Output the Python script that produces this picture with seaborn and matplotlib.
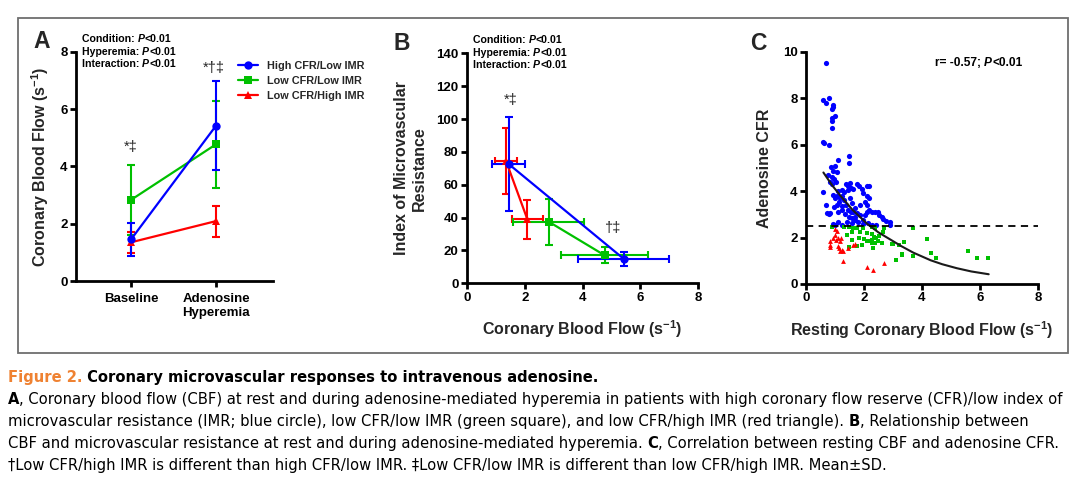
import numpy as np
import pandas as pd
import matplotlib
matplotlib.use("Agg")
import matplotlib.pyplot as plt
import seaborn as sns
from matplotlib import font_manager
from matplotlib.patches import Rectangle

# ---------------- data ----------------
groups = ["High CFR/Low IMR", "Low CFR/Low IMR", "Low CFR/High IMR"]
conditions = ["Baseline", "Adenosine\nHyperemia"]

# coronary blood flow (s^-1): [baseline, hyperemia]
cbf_high_mean = [1.45, 5.42]
cbf_high_sd = [0.57, 1.56]
cbf_lowlow_mean = [2.83, 4.77]
cbf_lowlow_sd = [1.22, 1.51]
cbf_lowhigh_mean = [1.35, 2.09]
cbf_lowhigh_sd = [0.37, 0.54]

# index of microvascular resistance: [baseline, hyperemia]
imr_high_mean = [72.5, 15.0]
imr_high_sd = [28.5, 4.3]
imr_lowlow_mean = [37.5, 17.0]
imr_lowlow_sd = [14.0, 4.8]
imr_lowhigh_mean = [74.5, 39.0]
imr_lowhigh_sd = [20.0, 12.0]

# panel C: resting CBF vs adenosine CFR
high_x = [0.70, 0.60, 0.70, 0.80, 0.94, 0.90, 0.92, 0.99, 0.91, 0.89, 0.89, 0.57, 0.63, 0.78,
          1.49, 1.49, 1.09, 1.00, 0.85, 0.92, 1.08, 0.77, 0.88, 0.98, 0.83, 1.05, 0.90, 0.57,
          0.70, 0.72, 0.82, 0.78, 0.94, 1.00, 1.08, 1.17, 1.23, 1.32, 1.06, 1.23, 1.38, 1.44,
          1.55, 1.63, 1.75, 1.86, 1.38, 1.44, 1.55, 1.46, 1.63, 1.75, 1.84, 1.92, 2.09, 2.18,
          1.97, 2.09, 2.18, 2.03, 2.12, 2.18, 2.09, 2.26, 2.38, 2.49, 2.53, 2.61, 2.66, 2.76,
          2.89, 2.89, 1.86, 1.69, 1.57, 1.69, 1.80, 1.57, 1.40, 1.23, 1.11, 1.00, 0.92, 1.97,
          2.15, 2.26, 2.43, 1.23, 1.30, 1.15, 1.50, 1.60, 1.35, 1.48, 1.70, 1.95, 2.05, 0.98,
          1.10, 1.25, 1.50, 1.12]
high_y = [9.50, 7.90, 7.80, 8.00, 7.70, 7.55, 7.63, 7.25, 7.13, 7.03, 6.73, 6.10, 6.05, 6.00,
          5.50, 5.22, 5.33, 5.10, 5.05, 4.85, 4.80, 4.70, 4.60, 4.50, 4.40, 4.40, 4.30, 3.95,
          3.40, 3.05, 3.05, 3.00, 3.85, 3.70, 3.77, 3.70, 3.77, 3.62, 3.40, 3.34, 3.40, 3.20,
          3.12, 3.10, 3.05, 2.98, 4.30, 4.20, 4.13, 4.05, 4.10, 4.30, 4.20, 4.10, 4.22, 4.22,
          3.90, 3.77, 3.70, 3.55, 3.40, 3.20, 3.12, 3.12, 3.10, 3.10, 2.98, 2.87, 2.80, 2.72,
          2.68, 2.55, 3.40, 3.27, 2.84, 2.77, 2.69, 2.62, 2.69, 2.55, 2.66, 2.55, 2.60, 2.58,
          2.62, 2.55, 2.55, 4.05, 3.95, 3.55, 3.70, 3.50, 3.00, 2.90, 2.90, 2.75, 2.95, 3.30,
          3.10, 3.20, 4.35, 4.00]
lowlow_x = [0.88, 1.30, 1.49, 1.62, 1.75, 1.98, 2.26, 2.38, 2.70, 3.68, 1.40, 1.57, 1.86, 2.09,
            2.26, 2.66, 2.34, 2.43, 2.49, 2.26, 2.26, 2.38, 2.61, 2.09, 1.92, 1.75, 1.49, 1.57,
            2.32, 3.01, 3.20, 3.38, 3.30, 3.30, 3.09, 3.70, 4.18, 4.30, 4.48, 5.60, 5.91, 6.29,
            2.15, 2.00, 1.83, 2.95, 2.50]
lowlow_y = [2.45, 2.45, 2.45, 2.42, 2.42, 2.42, 2.45, 2.42, 2.40, 2.42, 2.10, 2.26, 2.26, 2.20,
            2.15, 2.22, 2.02, 1.98, 1.86, 1.90, 1.76, 1.76, 1.76, 1.86, 1.69, 1.62, 1.60, 1.90,
            1.55, 1.74, 1.70, 1.82, 1.30, 1.24, 1.03, 1.20, 1.92, 1.32, 1.13, 1.43, 1.10, 1.10,
            1.85, 1.95, 1.97, 1.72, 2.05]
lowhigh_x = [1.00, 1.06, 1.00, 1.11, 0.94, 1.20, 0.83, 1.17, 0.83, 0.83, 1.11, 1.15, 1.17, 1.29,
             1.46, 1.61, 1.69, 1.29, 2.09, 2.30, 2.69, 1.05, 1.25]
lowhigh_y = [2.35, 2.28, 2.12, 2.00, 1.98, 2.00, 1.83, 1.83, 1.70, 1.58, 1.62, 1.56, 1.42, 1.40,
             1.55, 1.70, 1.72, 1.00, 0.72, 0.62, 0.92, 1.90, 1.45]
fit_x = [0.6, 0.9, 1.2, 1.6, 2.1, 2.5, 2.9, 3.3, 3.7, 4.3, 4.7, 5.2, 5.7, 6.3]
fit_y = [4.80, 4.25, 3.78, 3.20, 2.60, 2.22, 1.92, 1.62, 1.35, 1.02, 0.85, 0.68, 0.54, 0.42]
cfr_cutoff = 2.5

# ---------------- style ----------------
colors = ["#0000FF", "#00C000", "#FF0000"]
markers = ["o", "s", "^"]
msizes = [6.0, 5.2, 5.8]

sns.set_style("ticks")
plt.rcParams["font.family"] = ["Liberation Sans", "DejaVu Sans"]
plt.rcParams["font.weight"] = "bold"
plt.rcParams["axes.labelweight"] = "bold"
plt.rcParams["mathtext.fontset"] = "custom"
plt.rcParams["mathtext.rm"] = "Liberation Sans:bold"
plt.rcParams["mathtext.bf"] = "Liberation Sans:bold"
plt.rcParams["mathtext.it"] = "Liberation Sans:italic:bold"
plt.rcParams["mathtext.default"] = "rm"

W, H = 1080, 483
fig = plt.figure(figsize=(W / 100, H / 100), dpi=100)
renderer = fig.canvas.get_renderer()


def px_axes(left, top, right, bottom):
    return fig.add_axes([left / W, 1 - bottom / H, (right - left) / W, (bottom - top) / H])


def style(ax):
    for s in ["top", "right"]:
        ax.spines[s].set_visible(False)
    for s in ["left", "bottom"]:
        ax.spines[s].set_linewidth(2.0)
        ax.spines[s].set_color("black")
    ax.tick_params(width=2.0, length=4.5, labelsize=9.5, pad=1.5, colors="black")
    for lab in ax.get_xticklabels() + ax.get_yticklabels():
        lab.set_fontweight("bold")


def text_width(s, **kw):
    t1 = fig.text(0, 0, "|" + s + "|", **kw)
    t2 = fig.text(0, 0, "||", **kw)
    w = t1.get_window_extent(renderer).width - t2.get_window_extent(renderer).width
    t1.remove()
    t2.remove()
    return w


def draw_runs(x, y, runs, size, extra=None, va="baseline"):
    for txt, weight, style_, col in runs:
        kw = dict(fontsize=size, fontweight=weight, fontstyle=style_)
        if extra:
            kw.update(extra)
        fig.text(x / W, 1 - y / H, txt, color=col, va=va, ha="left", **kw)
        x += text_width(txt, **kw)
    return x


cbf_means = [cbf_high_mean, cbf_lowlow_mean, cbf_lowhigh_mean]
cbf_sds = [cbf_high_sd, cbf_lowlow_sd, cbf_lowhigh_sd]
imr_means = [imr_high_mean, imr_lowlow_mean, imr_lowhigh_mean]
imr_sds = [imr_high_sd, imr_lowlow_sd, imr_lowhigh_sd]

# ---------------- panel A ----------------
axA = px_axes(76, 51.7, 273, 281)
xpos = np.arange(len(conditions))
for i in [2, 1, 0]:
    axA.errorbar(xpos, cbf_means[i], yerr=cbf_sds[i], fmt="none", ecolor=colors[i],
                 elinewidth=1.5, capsize=3.2, capthick=1.5, zorder=2)
    dfA = pd.DataFrame({"cond": xpos, "cbf": cbf_means[i]})
    sns.lineplot(data=dfA, x="cond", y="cbf", ax=axA, color=colors[i], marker=markers[i],
                 markersize=msizes[i], markeredgewidth=0, linewidth=1.6, label=groups[i],
                 zorder=3)
axA.set_xlim(-0.647, 1.67)
axA.set_ylim(0, 8)
axA.set_yticks([0, 2, 4, 6, 8])
axA.set_xticks(xpos)
axA.set_xticklabels(conditions)
axA.set_xlabel("")
axA.set_ylabel("Coronary Blood Flow (s$^{-1}$)", fontsize=11.5)
axA.yaxis.set_label_coords(-0.125, 0.5)
style(axA)
axA.tick_params(axis="x", pad=4)
handles, labels = axA.get_legend_handles_labels()
hmap = dict(zip(labels, handles))
axA.legend([hmap[g] for g in groups], groups, loc="upper left",
           bbox_to_anchor=(238 / W, 1 - 61 / H), bbox_transform=fig.transFigure,
           frameon=False, borderpad=0, borderaxespad=0, handlelength=1.8,
           handletextpad=0.9, labelspacing=0.45, prop={"weight": "bold", "size": 7.8})
axA.text(0, 4.69, "*‡", ha="center", va="center", fontsize=10.5, fontweight="normal")
axA.text(0.97, 7.42, "*†‡", ha="center", va="center", fontsize=10.5, fontweight="normal")

# ---------------- panel B ----------------
axB = px_axes(467, 53.3, 698, 283.3)
for i in [2, 1, 0]:
    axB.errorbar(cbf_means[i], imr_means[i], xerr=cbf_sds[i], yerr=imr_sds[i], fmt="none",
                 ecolor=colors[i], elinewidth=1.5, capsize=3.2, capthick=1.5, zorder=2)
    dfB = pd.DataFrame({"cbf": cbf_means[i], "imr": imr_means[i]})
    sns.lineplot(data=dfB, x="cbf", y="imr", ax=axB, color=colors[i], marker=markers[i],
                 markersize=msizes[i], markeredgewidth=0, linewidth=1.6, sort=False,
                 zorder=3)
axB.set_xlim(0, 8)
axB.set_ylim(0, 140)
axB.set_xticks([0, 2, 4, 6, 8])
axB.set_yticks(np.arange(0, 141, 20))
axB.set_xlabel("Coronary Blood Flow (s$^{-1}$)", fontsize=11.5)
axB.set_ylabel("Index of Microvascular\nResistance", fontsize=11.5)
axB.yaxis.set_label_coords(-0.175, 0.5)
axB.xaxis.set_label_coords(0.5, -0.15)
style(axB)
axB.text(1.51, 111.6, "*‡", ha="center", va="center", fontsize=10.5, fontweight="normal")
axB.text(5.07, 33.5, "†‡", ha="center", va="center", fontsize=10.5, fontweight="normal")

# ---------------- panel C ----------------
axC = px_axes(806, 51.7, 1038, 284)
sns.scatterplot(x=high_x, y=high_y, ax=axC, color=colors[0], marker="o", s=14, linewidth=0, zorder=3)
sns.scatterplot(x=lowlow_x, y=lowlow_y, ax=axC, color=colors[1], marker="s", s=10, linewidth=0, zorder=3)
sns.scatterplot(x=lowhigh_x, y=lowhigh_y, ax=axC, color=colors[2], marker="^", s=12, linewidth=0, zorder=3)
sns.lineplot(x=fit_x, y=fit_y, ax=axC, color="#1a1a1a", linewidth=1.5, zorder=4)
axC.axhline(cfr_cutoff, color="black", linewidth=1.3, linestyle=(0, (4, 3)), zorder=4)
axC.set_xlim(0, 8)
axC.set_ylim(0, 10)
axC.set_xticks([0, 2, 4, 6, 8])
axC.set_yticks([0, 2, 4, 6, 8, 10])
axC.set_xlabel("Resting Coronary Blood Flow (s$^{-1}$)", fontsize=11.5)
axC.set_ylabel("Adenosine CFR", fontsize=11.5)
axC.yaxis.set_label_coords(-0.145, 0.5)
axC.xaxis.set_label_coords(0.5, -0.15)
style(axC)

# ---------------- annotations ----------------
stat_rows = [("Condition: ", 39), ("Hyperemia: ", 51.7), ("Interaction: ", 64.3)]
for x0, dy in [(82, 0), (473, 1.0)]:
    for lab, yy in stat_rows:
        draw_runs(x0, yy + dy, [(lab, "bold", "normal", "black"), ("P", "bold", "italic", "black"),
                                ("<0.01", "bold", "normal", "black")], 7.6, va="center")
draw_runs(935, 63, [("r= -0.57; ", "bold", "normal", "black"), ("P", "bold", "italic", "black"),
                    ("<0.01", "bold", "normal", "black")], 8.6, va="center")

for letter, x, y in [("A", 42, 42), ("B", 402, 43), ("C", 758, 43)]:
    fig.text(x / W, 1 - y / H, letter, fontsize=16.5, fontweight="bold", ha="center", va="center")

fig.add_artist(Rectangle((18 / W, 1 - 353 / H), 1050 / W, 335 / H, transform=fig.transFigure,
                         fill=False, edgecolor="#6e6e6e", linewidth=1.3))

# ---------------- caption ----------------
flist = font_manager.fontManager.ttflist
names = {f.name for f in flist}
if "Liberation Sans Narrow" in names:
    cap_font = {"family": "Liberation Sans Narrow"}
elif any(f.name == "DejaVu Sans" and f.stretch == "condensed" for f in flist):
    cap_font = {"family": "DejaVu Sans", "fontstretch": "condensed"}
else:
    cap_font = {"family": "Liberation Sans"}
orange = "#EF8232"
N, B = "normal", "bold"
cap_lines = [
    [("Figure 2.", B, orange), (" Coronary microvascular responses to intravenous adenosine.", B, "black")],
    [("A", B, "black"), (", Coronary blood flow (CBF) at rest and during adenosine-mediated hyperemia in patients with high coronary flow reserve (CFR)/low index of", N, "black")],
    [("microvascular resistance (IMR; blue circle), low CFR/low IMR (green square), and low CFR/high IMR (red triangle). ", N, "black"), ("B", B, "black"), (", Relationship between", N, "black")],
    [("CBF and microvascular resistance at rest and during adenosine-mediated hyperemia. ", N, "black"), ("C", B, "black"), (", Correlation between resting CBF and adenosine CFR.", N, "black")],
    [("†Low CFR/high IMR is different than high CFR/low IMR. ‡Low CFR/low IMR is different than low CFR/high IMR. Mean±SD.", N, "black")],
]
ref_w = sum(text_width(t, fontsize=10, fontweight=w, **cap_font) for t, w, c in cap_lines[1])
cap_size = min(10 * 1055 / ref_w, 12.5)
for k, line in enumerate(cap_lines):
    draw_runs(8, 382 + 22 * k, [(t, w, "normal", c) for t, w, c in line], cap_size, extra=cap_font)

fig.savefig("out.png", dpi=100)
